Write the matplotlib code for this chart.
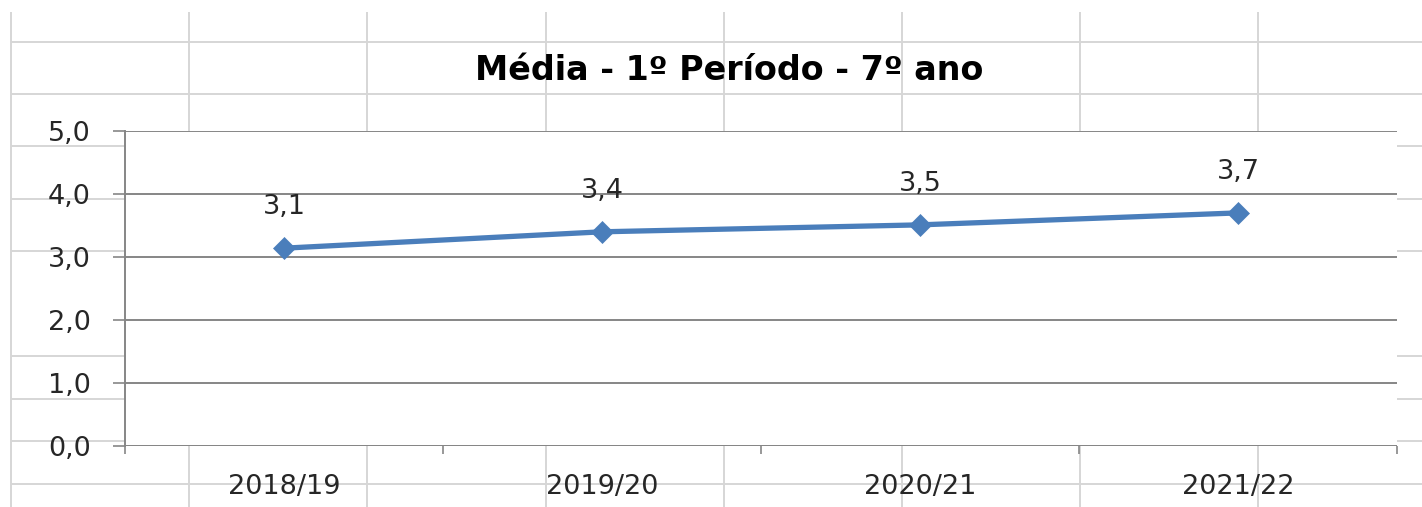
import matplotlib
matplotlib.use('Agg')
import matplotlib.pyplot as plt
import numpy as np

# chart data
anos = ['2018/19', '2019/20', '2020/21', '2021/22']
medias = [3.14, 3.40, 3.51, 3.70]
titulo = 'Média - 1º Período - 7º ano'

# worksheet cells behind the chart (pixel positions of the grid lines)
col_x = [11, 189, 367, 546, 724, 902, 1080, 1258]
row_y = [42, 94, 146, 199, 251, 356, 399, 441, 484]

W, H = 1422, 507
fig = plt.figure(figsize=(W / 100, H / 100), dpi=100)
fig.patch.set_facecolor('white')

# spreadsheet background
bg = fig.add_axes([0, 0, 1, 1], zorder=0)
bg.set_xlim(0, W)
bg.set_ylim(H, 0)
bg.axis('off')
bg.vlines(col_x, 12, H, color='#d6d6d6', lw=1.4)
bg.hlines(row_y, 11, W, color='#d6d6d6', lw=1.4)

# plot area
left, right, top, bottom = 125, 1397, 131, 446
ax = fig.add_axes([left / W, 1 - bottom / H, (right - left) / W, (bottom - top) / H],
                  zorder=1)
ax.set_facecolor('white')

x = np.arange(len(anos))
ax.plot(x, medias, color='#4A7EBB', lw=3.8, marker='D', ms=11.5,
        mec='#4A7EBB', mew=0.5, solid_capstyle='round', zorder=3)
for xi, v in zip(x, medias):
    ax.annotate(f'{v:.1f}'.replace('.', ','), (xi, v), xytext=(0, 29.5),
                textcoords='offset points', ha='center', va='center',
                fontsize=19.5, color='#262626')

ax.set_xlim(-0.5, len(anos) - 0.5)
ax.set_ylim(0, 5)
ax.set_yticks(np.arange(0, 5.1, 1))
ax.set_yticklabels([f'{t:.1f}'.replace('.', ',') for t in np.arange(0, 5.1, 1)])
ax.set_xticks(x)
ax.set_xticklabels(anos)
ax.set_xticks(np.arange(-0.5, len(anos)), minor=True)
ax.yaxis.grid(True, color='#868686', lw=1.4)
ax.set_axisbelow(True)

for s in ['top', 'right', 'bottom']:
    ax.spines[s].set_visible(False)
ax.spines['left'].set_color('#868686')
ax.spines['left'].set_linewidth(1.4)
ax.axhline(0, color='#868686', lw=1.4, zorder=2)

ax.tick_params(axis='y', length=8.5, width=1.2, color='#868686', pad=16,
               labelsize=19.5, labelcolor='#262626')
ax.tick_params(axis='x', which='major', length=0, pad=20,
               labelsize=19.5, labelcolor='#262626')
ax.tick_params(axis='x', which='minor', length=6, width=1.2, color='#868686')

fig.text(729 / W, 1 - 71 / H, titulo, ha='center', va='center',
         fontsize=24, fontweight='bold', color='black')

plt.savefig('out.png', dpi=100)
